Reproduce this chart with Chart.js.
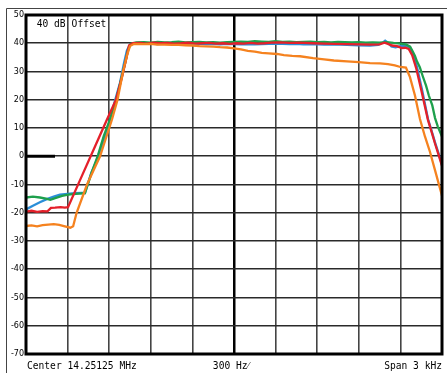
<!DOCTYPE html>
<html>
<head>
<meta charset="utf-8">
<script src="https://cdn.jsdelivr.net/npm/chart.js@4/dist/chart.umd.min.js"></script>
<style>
  html, body { margin: 0; padding: 0; background: #fff; }
  #wrap { width: 447px; height: 373px; }
</style>
</head>
<body>
<div id="wrap"><canvas id="c" width="447" height="373"></canvas></div>
<script>
// Frequency offsets from centre (Hz) paired with level (dB), one list per trace
const redTrace = [[-1500,-19.6],[-1460,-19.3],[-1420,-19.7],[-1380,-19.4],[-1345,-19.5],[-1320,-18.3],[-1290,-18.2],[-1250,-18.0],[-1220,-18.2],[-1197,-18.0],[-1100,-7.3],[-1000,3.7],[-916,13],[-851,20],[-808,28],[-775,35],[-757,39.2],[-730,40.0],
  [-680,40.1],[-630,39.9],[-580,40.2],[-530,40.0],[-480,40.1],[-430,39.9],[-380,40.0],[-330,40.2],[-280,39.9],[-230,40.0],[-180,40.1],[-130,39.9],[-80,40.0],[-30,39.8],[20,40.0],[70,39.9],[120,40.1],[170,39.9],[220,40.0],[270,40.2],[332,40.3],[400,40.1],[470,40.2],[570,40.0],[650,39.9],[720,39.8],[815,39.7],[900,39.6],[981,39.5],[1050,39.6],[1085,40.2],[1110,39.8],[1140,39.2],[1175,39.0],[1210,38.3],[1235,38.4],[1260,38.0],[1285,35.8],[1315,31.0],[1350,23.5],[1399,12.8],[1425,8.6],[1449,4.6],[1475,0.6],[1500,-3.4]];

const greenTrace = [[-1500,-14.6],[-1450,-14.3],[-1400,-14.6],[-1355,-15.0],[-1325,-15.4],[-1290,-14.8],[-1240,-14.0],[-1195,-13.6],[-1140,-13.3],[-1075,-13.1],[-1025,-5.5],[-980,0.5],[-940,7],[-895,13],[-850,20],[-815,27],[-785,33],[-765,37.5],[-745,39.8],[-705,40.3],
  [-650,40.4],[-600,40.2],[-550,40.5],[-500,40.3],[-450,40.4],[-400,40.6],[-350,40.3],[-300,40.4],[-250,40.5],[-200,40.3],[-150,40.4],[-100,40.2],[-50,40.4],[0,40.5],[50,40.6],[100,40.5],[150,40.7],[200,40.6],[250,40.5],[300,40.7],[350,40.5],[400,40.6],[450,40.4],[500,40.5],[550,40.6],[600,40.4],[650,40.5],[700,40.3],[750,40.5],[800,40.4],[850,40.3],[900,40.4],[950,40.2],[1000,40.3],[1050,40.2],[1100,40.4],[1150,40.1],[1200,39.9],
  [1240,39.6],[1270,38.8],[1290,37.0],[1305,35.5],[1320,33.5],[1340,31.5],[1360,28.5],[1385,25.0],[1405,21.5],[1430,18.0],[1450,13.5],[1470,10.5],[1500,7.0]];

const blueTrace = [[-1500,-18.8],[-1450,-17.5],[-1400,-16.3],[-1350,-15.2],[-1300,-14.3],[-1255,-13.6],[-1200,-13.3],[-1150,-13.1],[-1100,-13.0],[-1075,-13.0],[-1030,-6],[-990,-1.5],[-945,5],[-905,11],[-865,18.5],[-822,26],[-793,33],[-772,37.5],[-750,39.6],[-714,40.0],
  [-650,39.8],[-600,40.0],[-550,39.7],[-500,39.9],[-450,39.8],[-400,39.9],[-350,39.7],[-300,39.8],[-250,39.9],[-200,39.7],[-150,39.8],[-100,39.6],[-50,39.8],[0,39.7],[50,39.6],[100,39.7],[150,39.6],[200,39.7],[250,39.8],[300,39.9],[350,39.8],[400,39.7],[450,39.8],[500,39.6],[570,39.7],[650,39.5],[720,39.6],[815,39.4],[900,39.3],[981,39.2],[1040,39.4],[1075,40.3],[1090,40.9],[1110,40.2],[1135,38.9],[1165,38.6],[1200,39.0],[1240,39.1],[1265,38.5],
  [1291,36.0],[1320,31.5],[1356,23.5],[1399,13.2],[1425,9.0],[1449,5.0],[1475,1.0],[1500,-3.0]];

const orangeTrace = [[-1500,-24.7],[-1460,-24.5],[-1420,-24.8],[-1380,-24.4],[-1340,-24.2],[-1300,-24.0],[-1260,-24.3],[-1220,-24.8],[-1180,-25.3],[-1160,-24.8],[-1135,-20],[-1060,-10],[-966,0],[-880,13],[-840,20],[-800,30],[-770,36],[-750,39],[-720,39.8],
  [-650,39.7],[-600,39.8],[-555,39.5],[-500,39.5],[-450,39.4],[-400,39.4],[-350,39.3],[-296,39.2],[-250,39.0],[-200,38.9],[-150,38.8],[-100,38.6],[-50,38.5],[0,38.2],[50,37.8],[100,37.3],[150,37.0],[200,36.6],[250,36.4],[310,36.2],[360,35.8],[420,35.5],[476,35.4],[570,34.7],[650,34.3],[720,33.9],[815,33.6],[900,33.3],[981,33.0],[1053,32.9],[1110,32.6],[1160,32.2],[1200,31.6],[1240,31.4],
  [1269,28.0],[1305,21.5],[1341,13.2],[1377,7.0],[1413,1.6],[1450,-5.0],[1500,-14.0]];

// Axis settings
const spanHz = [-1500, 1500];
const hzPerDiv = 300;
const levelRange = [-70, 50];
const dbPerDiv = 10;
const refLevel = 0;

// Annotation strings
const offsetLabel = ['40 dB', 'Offset'];
const centerLabel = 'Center 14.25125 MHz';
const divLabel = '300 Hz\u2044';
const spanLabel = 'Span 3 kHz';

const toPoints = tr => tr.map(([x, y]) => ({ x, y }));

const traceStyle = (data, color) => ({
  data: toPoints(data),
  borderColor: color,
  borderWidth: 2.3,
  pointRadius: 0,
  tension: 0,
  fill: false
});

const analyzerFrame = {
  id: 'analyzerFrame',
  beforeDraw(chart) {
    const { ctx } = chart;
    ctx.save();
    ctx.fillStyle = '#fff';
    ctx.fillRect(0, 0, chart.width, chart.height);
    // outer panel edge
    ctx.strokeStyle = '#444';
    ctx.lineWidth = 1;
    ctx.beginPath();
    ctx.moveTo(6.5, chart.height);
    ctx.lineTo(6.5, 8.5);
    ctx.lineTo(chart.width, 8.5);
    ctx.stroke();
    ctx.restore();
  },
  afterDatasetsDraw(chart) {
    const { ctx, chartArea: a, scales } = chart;
    ctx.save();
    // graticule border
    ctx.strokeStyle = '#000';
    ctx.lineWidth = 3;
    ctx.strokeRect(a.left, a.top, a.right - a.left, a.bottom - a.top);
    // reference level marker
    const y0 = scales.y.getPixelForValue(refLevel);
    ctx.beginPath();
    ctx.moveTo(a.left, y0);
    ctx.lineTo(a.left + 29, y0);
    ctx.stroke();

    ctx.fillStyle = '#000';
    ctx.font = '9.6px "DejaVu Sans Mono"';
    ctx.textBaseline = 'middle';
    // offset box text
    ctx.textAlign = 'right';
    ctx.fillText(offsetLabel[0], scales.x.getPixelForValue(-1200) - 2, a.top + 9);
    ctx.textAlign = 'left';
    ctx.fillText(offsetLabel[1], scales.x.getPixelForValue(-1200) + 4, a.top + 9);
    // bottom annotations
    const yb = a.bottom + 12;
    ctx.textAlign = 'left';
    ctx.fillText(centerLabel, a.left + 1, yb);
    ctx.textAlign = 'center';
    ctx.fillText(divLabel, scales.x.getPixelForValue(0) - 3, yb);
    ctx.textAlign = 'right';
    ctx.fillText(spanLabel, a.right, yb);
    ctx.restore();
  }
};

new Chart(document.getElementById('c'), {
  type: 'line',
  data: {
    datasets: [
      traceStyle(orangeTrace, '#f5821f'),
      traceStyle(redTrace, '#e4202a'),
      traceStyle(greenTrace, '#1ea04c'),
      traceStyle(blueTrace, '#2a8ed8')
    ]
  },
  options: {
    responsive: false,
    animation: false,
    devicePixelRatio: 1,
    layout: { padding: { left: 0, right: 5, top: 15, bottom: 0 } },
    plugins: { legend: { display: false }, tooltip: { enabled: false } },
    scales: {
      x: {
        type: 'linear',
        min: spanHz[0],
        max: spanHz[1],
        ticks: { display: false, stepSize: hzPerDiv },
        border: { display: false },
        grid: {
          drawTicks: false,
          color: c => (c.tick && c.tick.value === 0) ? '#000' : '#444',
          lineWidth: c => (c.tick && c.tick.value === 0) ? 2.5 : 1.6
        },
        afterFit: s => { s.height = 19; }
      },
      y: {
        min: levelRange[0],
        max: levelRange[1],
        ticks: {
          stepSize: dbPerDiv,
          color: '#000',
          padding: 2,
          font: { family: 'DejaVu Sans', size: 8 }
        },
        border: { display: false },
        grid: { drawTicks: false, color: '#2a2a2a', lineWidth: 1.6 },
        afterFit: s => { s.width = 26; }
      }
    }
  },
  plugins: [analyzerFrame]
});
</script>
</body>
</html>
